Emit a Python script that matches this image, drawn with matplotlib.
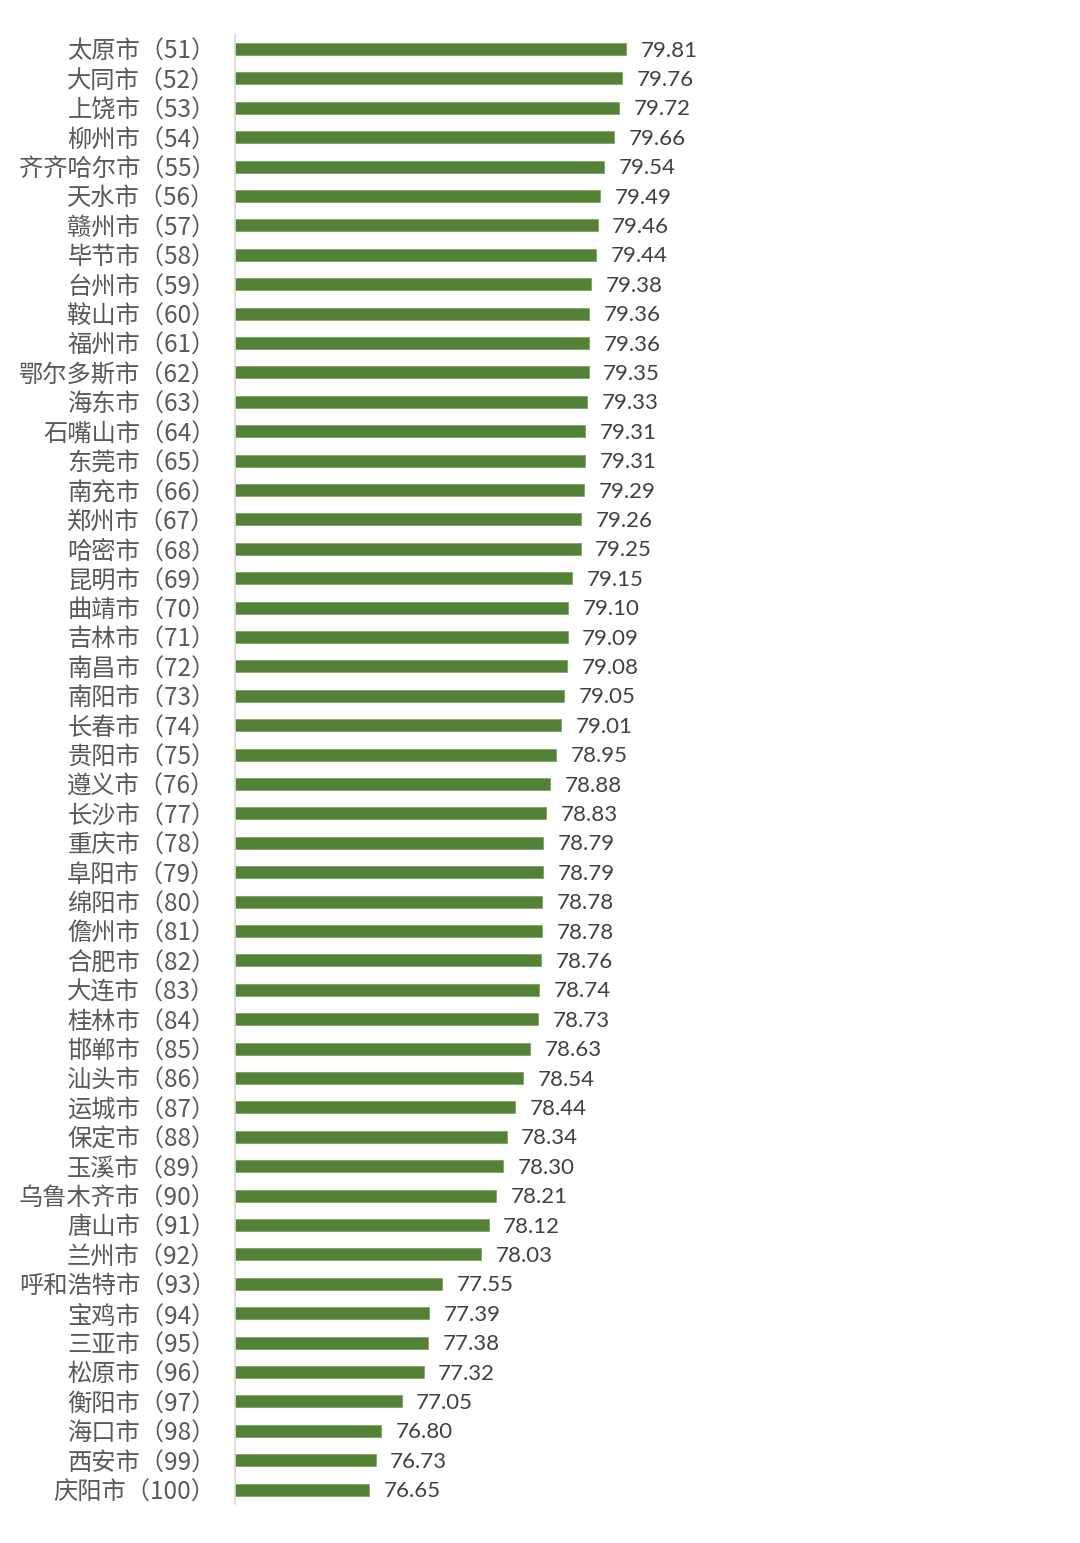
import matplotlib
matplotlib.use("Agg")
import matplotlib.pyplot as plt

cities = ["太原市", "大同市", "上饶市", "柳州市", "齐齐哈尔市", "天水市", "赣州市", "毕节市",
          "台州市", "鞍山市", "福州市", "鄂尔多斯市", "海东市", "石嘴山市", "东莞市", "南充市",
          "郑州市", "哈密市", "昆明市", "曲靖市", "吉林市", "南昌市", "南阳市", "长春市",
          "贵阳市", "遵义市", "长沙市", "重庆市", "阜阳市", "绵阳市", "儋州市", "合肥市",
          "大连市", "桂林市", "邯郸市", "汕头市", "运城市", "保定市", "玉溪市", "乌鲁木齐市",
          "唐山市", "兰州市", "呼和浩特市", "宝鸡市", "三亚市", "松原市", "衡阳市", "海口市",
          "西安市", "庆阳市"]
ranks = list(range(51, 101))
values = [79.81, 79.76, 79.72, 79.66, 79.54, 79.49, 79.46, 79.44, 79.38, 79.36,
          79.36, 79.35, 79.33, 79.31, 79.31, 79.29, 79.26, 79.25, 79.15, 79.10,
          79.09, 79.08, 79.05, 79.01, 78.95, 78.88, 78.83, 78.79, 78.79, 78.78,
          78.78, 78.76, 78.74, 78.73, 78.63, 78.54, 78.44, 78.34, 78.30, 78.21,
          78.12, 78.03, 77.55, 77.39, 77.38, 77.32, 77.05, 76.80, 76.73, 76.65]
labels = [f"{c}（{r}）" for c, r in zip(cities, ranks)]

W, H = 1080, 1543
fig = plt.figure(figsize=(W / 100, H / 100), dpi=100)
left_px, top_px, bottom_px = 235, 34.3, 1504.3
ax = fig.add_axes([left_px / W, 1 - bottom_px / H, (W - left_px) / W, (bottom_px - top_px) / H])

base = 75.0
px_per_unit = 81.3
ax.set_xlim(base, base + (W - left_px) / px_per_unit)
n = len(values)
ypos = list(range(n))
ax.barh(ypos, [v - base for v in values], left=base, height=0.41, color="#538135",
        edgecolor="#7fa463", linewidth=0.6)
ax.set_ylim(n - 0.5, -0.5)

for y, v in zip(ypos, values):
    ax.annotate(f"{v:.2f}", (v, y), xytext=(10.5, -1.2), textcoords="offset points",
                va="center", ha="left", fontsize=16, color="#404040", family=["Lato", "DejaVu Sans"])

ax.set_yticks(ypos)
ax.set_yticklabels(labels, fontsize=17.5, color="#595959",
                   family=["Noto Sans CJK SC", "DejaVu Sans"])
ax.tick_params(axis="y", length=0, pad=14)
ax.set_xticks([])
for s in ["top", "right", "bottom"]:
    ax.spines[s].set_visible(False)
ax.spines["left"].set_color("#d9d9d9")
ax.spines["left"].set_linewidth(1.2)

fig.savefig("out.png", dpi=100, facecolor="white")
